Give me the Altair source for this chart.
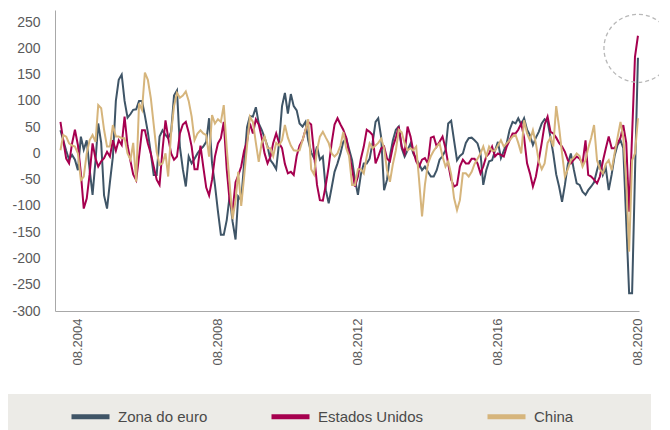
import altair as alt
import pandas as pd

# ---- data (monthly, Feb 2004 - Aug 2020) ----
start_month = "2004-02-01"
n_months = 199

zona_euro = [
    44, 25, 5, -12, -3, -12, -32, 32, 7, 25,
    -30, -79, -13, 57, 20, -80, -105, -55, -6, 100,
    140, 150, 100, 68, 75, 83, 84, 100, 100, 72,
    40, 0, -41, -41, 32, 44, 35, 29, 41, 110,
    120, 13, -30, -63, -6, -19, -10, 0, 8, 13,
    22, 67, -19, -60, -110, -155, -155, -127, -82, -130,
    -164, -82, -89, -20, 50, 71, 70, 88, 57, 45,
    30, 13, -13, -20, -30, 20, 90, 115, 76, 113,
    90, 82, 57, 51, 60, 25, 2, -9, 13, -12,
    -6, -70, -95, -65, -35, -19, 0, 22, 29, 8,
    -13, -50, -79, -40, -19, -19, -10, 20, 60, 67,
    30, -70, -50, -5, 25, 45, 51, 10, -6, 6,
    19, 0, -10, -20, -32, -25, -35, -44, -44, -32,
    -12, -5, 6, 57, 62, 25, -13, -5, 0, 20,
    29, 30, 25, 19, 0, -60, -32, -15, -13, 5,
    22, -9, 5, 20, 45, 60, 57, 67, 55, 67,
    45, 35, 16, 30, 41, 57, 65, 60, 30, 0,
    -40, -63, -92, -60, -20, 0, -30, -57, -60, -73,
    -79, -70, -63, -55, -32, -13, -41, -28, -70, -40,
    -5, 16, 25, 10, -130, -266, -266, -40, 182,
]

estados_unidos = [
    60, 25, -10, -19, 19, 45, 16, -38, -105, -86,
    -40, 19, -10, -25, -15, -9, 3, -6, 25, 5,
    25, 16, 70, 15, -15, -40, -51, -6, 44, 44,
    19, 0, -25, -50, -60, 7, 63, 30, 0, -12,
    -6, 38, 55, 60, 40, 13, -30, -30, 15, -25,
    -65, -80, -50, -6, 19, 29, 60, -30, -90, -110,
    -55, -42, -25, 5, 22, 57, 38, 65, 55, 30,
    0, -19, -6, 20, 38, 20, 10, -20, -38, -35,
    -41, -5, 15, 25, 45, 60, 55, 0, -60, -89,
    -90, -60, -25, 20, 55, 67, 55, 45, 30, 0,
    -30, -63, -44, -10, 13, 45, 41, 35, -19, -6,
    10, 13, -10, -15, 13, 30, 51, 13, 0, 51,
    32, 5, -15, -25, -12, -9, -19, 30, 32, 13,
    22, 32, 10, -20, -50, -63, -60, -25, -12, -19,
    -19, -10, -10, -19, -38, -25, -6, 0, 13, -6,
    0, -3, -6, 13, 25, 38, 38, 45, 57, 30,
    -19, -38, -63, -44, -13, 20, 55, 70, 41, 38,
    30, 20, 13, 3, -13, -19, -12, -6, -10, -19,
    25, -41, -44, -50, -57, -44, -15, 10, 32, 10,
    10, 19, 30, 54, 20, -111, 35, 184, 224,
]

china = [
    6, 35, 32, 19, 15, 13, 0, -51, -44, 0,
    25, 35, 22, 92, 86, 45, 13, 13, 54, 32,
    32, 29, 29, 0, -12, 20, -54, 95, 83, 154,
    140, 105, 55, 3, -22, -19, 0, -44, 40, 90,
    115, 106, 110, 118, 100, 70, 25, 38, 44, 38,
    35, -6, 73, 57, 65, 60, 92, 10, -57, -125,
    -90, -35, -100, -45, 15, 70, 60, 20, -16, 20,
    32, 10, 10, -5, 20, 15, 25, 54, 30, 15,
    6, 5, 6, 25, 45, 65, -30, -40, 6, 32,
    41, 30, 20, 0, -6, 0, 15, 41, 10, -5,
    -60, -60, -30, -30, -38, -6, 19, 10, 15, 20,
    28, 10, -32, -54, -20, 6, 45, 40, 20, 6,
    10, 6, 13, -50, -120, -60, -20, -5, 5, 13,
    19, -6, -25, -15, -40, -85, -108, -89, -38, -38,
    -44, -35, -20, -10, 0, 13, -6, 13, 5, 5,
    15, 25, 13, 19, 25, 32, 35, 20, 0, 63,
    38, 25, 44, 19, -15, -30, -19, 20, 30, 13,
    90, 50, 0, -44, -30, -13, -8, 0, -5, -25,
    -13, 10, 30, 54, -13, -30, -38, -20, -13, -32,
    0, 30, 60, 30, -54, -187, -13, 0, 67,
]

series_names = ["Zona do euro", "Estados Unidos", "China"]
series_colors = ["#3f5567", "#a6004f", "#d6b57c"]
y_ticks = [250, 200, 150, 100, 50, 0, -50, -100, -150, -200, -250, -300]
x_tick_years = [2004, 2008, 2012, 2016, 2020]

# annotation circle around the 2020 peak
circle_date = ["2020-08-01"]
circle_value = [200]

dates = pd.date_range(start_month, periods=n_months, freq="MS")
rows = []
for name, vals in zip(series_names, [zona_euro, estados_unidos, china]):
    for d, v in zip(dates, vals):
        rows.append({"date": d, "value": v, "serie": name})
df = pd.DataFrame(rows)

font = "Liberation Sans"
label_color = "#5a5a5a"

x_scale = alt.Scale(domain=[alt.DateTime(year=2003, month=12, date=6),
                            alt.DateTime(year=2020, month=8, date=12)])
y_scale = alt.Scale(domain=[-300, 273], nice=False, zero=False)

x_axis = alt.Axis(values=[alt.DateTime(year=y, month=8, date=1) for y in x_tick_years],
                  format="%m.%Y", labelAngle=270, labelFontSize=13,
                  labelColor=label_color, labelFont=font, labelPadding=7,
                  labelOverlap=False, ticks=False, tickSize=0, grid=False,
                  domainColor="#a8a8a8", domainWidth=1)
y_axis = alt.Axis(values=y_ticks, labelFontSize=14, labelColor=label_color,
                  labelFont=font, labelPadding=15, ticks=False, tickSize=0,
                  labelOverlap=False, labelExpr="toString(datum.value)",
                  grid=False, domainColor="#a8a8a8", domainWidth=1)

lines = alt.Chart(df).mark_line(strokeWidth=2).encode(
    x=alt.X("date:T", scale=x_scale, title=None, axis=x_axis),
    y=alt.Y("value:Q", scale=y_scale, title=None, axis=y_axis),
    color=alt.Color("serie:N", sort=series_names,
                    scale=alt.Scale(domain=series_names, range=series_colors),
                    legend=alt.Legend(orient="none", legendX=14, legendY=385,
                                      direction="horizontal", title=None,
                                      symbolType="stroke", symbolStrokeWidth=5,
                                      symbolSize=1444, labelFontSize=15,
                                      labelFont=font, labelColor="#4a4a4a",
                                      labelOffset=6, columnPadding=53)),
    order=alt.Order("date:T"),
)

band = alt.Chart(pd.DataFrame({"k": [0]})).mark_rect(color="#ecebe7").encode(
    x=alt.value(-47), x2=alt.value(596), y=alt.value(384), y2=alt.value(440)
)

circle_df = pd.DataFrame({"date": pd.to_datetime(circle_date), "value": circle_value})
circle = alt.Chart(circle_df).mark_point(
    shape="circle", filled=False, size=4624, stroke="#b8b8b8",
    strokeWidth=1.3, strokeDash=[4, 3], opacity=1
).encode(x=alt.X("date:T", scale=x_scale, title=None, axis=x_axis),
         y=alt.Y("value:Q", scale=y_scale, title=None, axis=y_axis))

chart = alt.layer(band, lines, circle).properties(
    width=584, height=301,
    autosize=alt.AutoSizeParams(type="none"),
    padding={"left": 47, "top": 2, "right": 20, "bottom": 130},
    background="white",
).configure_view(stroke=None)

chart.save("out.html", embed_options={"renderer": "svg", "actions": False})
